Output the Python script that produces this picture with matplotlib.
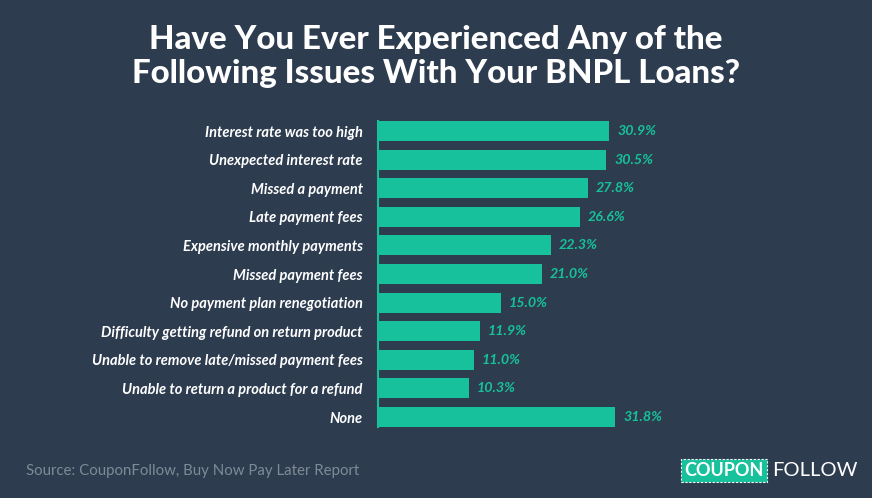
import matplotlib.pyplot as plt
from matplotlib.patches import FancyBboxPatch

categories = [
    "Interest rate was too high",
    "Unexpected interest rate",
    "Missed a payment",
    "Late payment fees",
    "Expensive monthly payments",
    "Missed payment fees",
    "No payment plan renegotiation",
    "Difficulty getting refund on return product",
    "Unable to remove late/missed payment fees",
    "Unable to return a product for a refund",
    "None",
]
values = [30.9, 30.5, 27.8, 26.6, 22.3, 21.0, 15.0, 11.9, 11.0, 10.3, 31.8]

BG = "#2d3c4f"
TEAL = "#17c19c"
XMIN, XMAX = -3.09, 44.26  # bars start at the axis edge, a bit left of zero

fig = plt.figure(figsize=(8.72, 4.98), dpi=100, facecolor=BG)
W, H = 872, 498

ax = fig.add_axes([378 / W, 1 - 431.3 / H, 322 / W, (431.3 - 116.7) / H])
ax.set_facecolor(BG)
ypos = list(range(len(categories)))
ax.barh(ypos, [v - XMIN for v in values], left=XMIN, height=0.7, color=TEAL)
ax.set_xlim(XMIN, XMAX)
ax.set_ylim(10.5, -0.5)

for y, v in zip(ypos, values):
    ax.annotate(f"{v:.1f}%", (v, y), xytext=(5.8, 0), textcoords="offset points",
                va="center", ha="left", color=TEAL, fontsize=10.3,
                fontweight="bold", fontstyle="italic", family="Lato")

ax.set_yticks(ypos)
ax.set_yticklabels(categories, fontsize=10.5, fontweight="bold", fontstyle="italic",
                   family="Lato", color="white")
ax.tick_params(axis="y", length=0, pad=11)
ax.set_xticks([])
for s in ["top", "right", "bottom"]:
    ax.spines[s].set_visible(False)
ax.spines["left"].set_color(TEAL)
ax.spines["left"].set_linewidth(1.5)
ax.spines["left"].set_bounds(-0.35, 10.35)

fig.text(0.5, 1 - 40 / H, "Have You Ever Experienced Any of the", ha="center", va="center",
         color="white", fontsize=23.8, fontweight="black", family="Lato")
fig.text(0.5, 1 - 73 / H, "Following Issues With Your BNPL Loans?", ha="center", va="center",
         color="white", fontsize=23.8, fontweight="black", family="Lato")

fig.text(26 / W, 1 - 471 / H, "Source: CouponFollow, Buy Now Pay Later Report", ha="left",
         va="center", color="#7f8a97", fontsize=10.8, family="Lato")

# logo
box = FancyBboxPatch((681 / W, 1 - 482 / H), 86 / W, 23 / H, boxstyle="square,pad=0",
                     transform=fig.transFigure, facecolor=TEAL, edgecolor="white",
                     linestyle=(0, (2, 1.5)), linewidth=0.8)
fig.patches.append(box)
fig.text(724 / W, 1 - 470.5 / H, "COUPON", ha="center", va="center", color="white",
         fontsize=13, fontweight="bold", family="Lato")
fig.text(772 / W, 1 - 470.5 / H, "FOLLOW", ha="left", va="center", color="white",
         fontsize=14.5, family="Lato")

fig.savefig("out.png", dpi=100, facecolor=BG)
